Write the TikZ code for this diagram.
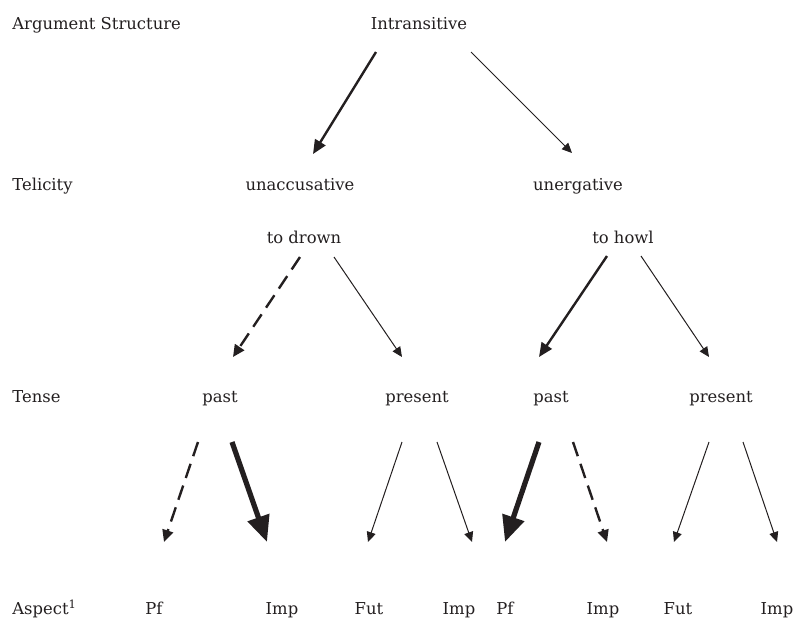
\documentclass[tikz,border=0pt]{standalone}
\usepackage{fontspec}
\setmainfont{DejaVu Serif}
\usepackage{tikz}
\usetikzlibrary{
  arrows.meta
}
\definecolor{ink}{RGB}{35,31,32}
\tikzset{lbl/.style={
  inner sep=0pt,
  anchor=base,
  text=ink,
  font=\fontsize{8.2}{10}\selectfont
}}
\tikzset{row/.style={
  lbl,
  anchor=base west
}}
\tikzset{thinarr/.style={
  draw=ink, line width=0.5pt,
  -{Triangle[length=5pt,width=4.5pt]}
}}
\tikzset{thickarr/.style={
  draw=ink, line width=1.2pt,
  -{Triangle[length=7pt,width=6pt]}
}}
\tikzset{heavyarr/.style={
  draw=ink, line width=2.6pt,
  -{Triangle[length=13pt,width=11pt]}
}}
\tikzset{dasharr/.style={
  draw=ink, line width=1.2pt,
  dash pattern=on 7.5pt off 4pt,
  -{Triangle[length=6pt,width=5.5pt]}
}}

\begin{document}
\begin{tikzpicture}[x=0.5pt,y=-0.5pt]
  \useasboundingbox (0,0) rectangle (798,618);
  % row labels
  \node [row] (argrow) at (12,29) {Argument Structure};
  \node [row] (telrow) at (12,190) {Telicity};
  \node [row] (tenrow) at (12,402) {Tense};
  \node [row] (asprow) at (12,614) {Aspect\textsuperscript{1}};
  % tree
  \node [lbl] (intr) at (419,29) {Intransitive};
  \node [lbl] (unacc) at (300,190) {unaccusative};
  \node [lbl] (unerg) at (578,190) {unergative};
  \node [lbl] (drown) at (304,243) {to drown};
  \node [lbl] (howl) at (623,243) {to howl};
  \node [lbl] (pastA) at (220,402) {past};
  \node [lbl] (presA) at (417,402) {present};
  \node [lbl] (pastB) at (551,402) {past};
  \node [lbl] (presB) at (721,402) {present};
  \node [lbl] (pfA) at (154,614) {Pf};
  \node [lbl] (impA) at (282,614) {Imp};
  \node [lbl] (futA) at (369,614) {Fut};
  \node [lbl] (impB) at (459,614) {Imp};
  \node [lbl] (pfB) at (505,614) {Pf};
  \node [lbl] (impC) at (603,614) {Imp};
  \node [lbl] (futB) at (678,614) {Fut};
  \node [lbl] (impD) at (777,614) {Imp};
  % arrows
  \draw [thickarr] ([shift={(-43,23)}]intr.base) -- ([shift={(13,-36)}]unacc.base);
  \draw [thinarr] ([shift={(52,23)}]intr.base) -- ([shift={(-6,-37)}]unerg.base);
  \draw [dasharr] ([shift={(-4,14)}]drown.base) -- ([shift={(13,-45)}]pastA.base);
  \draw [thinarr] ([shift={(30,14)}]drown.base) -- ([shift={(-15,-45)}]presA.base);
  \draw [thickarr] ([shift={(-16,13)}]howl.base) -- ([shift={(-12,-45)}]pastB.base);
  \draw [thinarr] ([shift={(18,13)}]howl.base) -- ([shift={(-12,-45)}]presB.base);
  \draw [dasharr] ([shift={(-22,40)}]pastA.base) -- ([shift={(10,-72)}]pfA.base);
  \draw [heavyarr] ([shift={(12,40)}]pastA.base) -- ([shift={(-15,-72)}]impA.base);
  \draw [thinarr] ([shift={(-15,40)}]presA.base) -- ([shift={(-1,-72)}]futA.base);
  \draw [thinarr] ([shift={(20,40)}]presA.base) -- ([shift={(13,-72)}]impB.base);
  \draw [heavyarr] ([shift={(-12,40)}]pastB.base) -- ([shift={(0,-72)}]pfB.base);
  \draw [dasharr] ([shift={(22,40)}]pastB.base) -- ([shift={(4,-72)}]impC.base);
  \draw [thinarr] ([shift={(-12,40)}]presB.base) -- ([shift={(-4,-72)}]futB.base);
  \draw [thinarr] ([shift={(22,40)}]presB.base) -- ([shift={(0,-72)}]impD.base);
\end{tikzpicture}
\end{document}
